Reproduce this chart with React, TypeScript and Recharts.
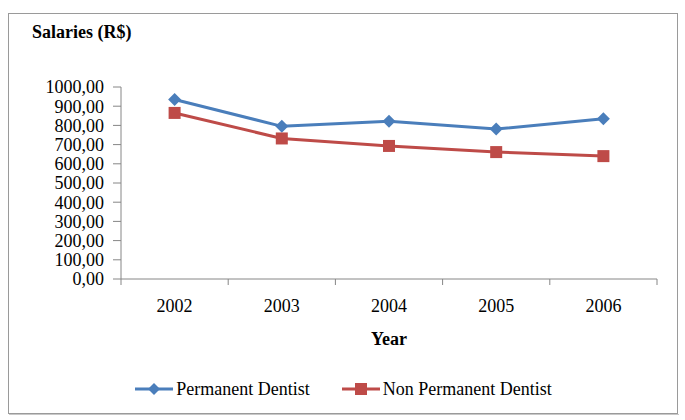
import React from 'react';
import { LineChart, Line, XAxis, YAxis, Legend } from 'recharts';

const years = ['2002', '2003', '2004', '2005', '2006'];
const permanent = [935, 795, 821, 781, 835];
const nonPermanent = [865, 732, 693, 661, 640];
const yTicks = [0, 100, 200, 300, 400, 500, 600, 700, 800, 900, 1000];
const seriesOrder = ['permanent', 'nonPermanent'];

const BLUE = '#4a7ebb';
const RED = '#be4b48';
const AXIS = '#868686';
const FONT = '"Liberation Serif", "Times New Roman", serif';
const X_TICK_SIZE = 6;
const X_TICK_MARGIN = 14;

const data = years.map((year, i) => ({
  year,
  permanent: permanent[i],
  nonPermanent: nonPermanent[i],
}));

const Diamond = (props: any) => {
  const { cx, cy, index } = props;
  if (cx == null || cy == null) return null;
  const r = 6.5;
  return (
    <path
      key={`d-${index}`}
      d={`M${cx},${cy - r}L${cx + r},${cy}L${cx},${cy + r}L${cx - r},${cy}Z`}
      fill={BLUE}
    />
  );
};

const Square = (props: any) => {
  const { cx, cy, index } = props;
  if (cx == null || cy == null) return null;
  const s = 12;
  return <rect key={`s-${index}`} x={cx - s / 2} y={cy - s / 2} width={s} height={s} fill={RED} />;
};

// category label in the middle, tick marks on the band edges (Excel style)
const YearTick = (props: any) => {
  const { x, y, payload, index, visibleTicksCount } = props;
  const half = payload.offset || 0;
  const axisY = y - X_TICK_SIZE - X_TICK_MARGIN;
  const isLast = index === visibleTicksCount - 1;
  return (
    <g>
      <line x1={x - half} y1={axisY} x2={x - half} y2={axisY + X_TICK_SIZE} stroke={AXIS} />
      {isLast && (
        <line x1={x + half} y1={axisY} x2={x + half} y2={axisY + X_TICK_SIZE} stroke={AXIS} />
      )}
      <text x={x} y={y} dy="0.71em" textAnchor="middle" fill="#000" fontSize={18} fontFamily={FONT}>
        {payload.value}
      </text>
    </g>
  );
};

const renderLegend = (props: any) => {
  const items = [...(props.payload || [])].sort(
    (a: any, b: any) => seriesOrder.indexOf(a.dataKey) - seriesOrder.indexOf(b.dataKey),
  );
  return (
    <div
      style={{
        display: 'flex',
        justifyContent: 'center',
        alignItems: 'center',
        gap: 32,
        height: 26,
        fontFamily: FONT,
        fontSize: 18,
        color: '#000',
        paddingLeft: 2,
      }}
    >
      {items.map((entry: any) => (
        <div key={entry.value} style={{ display: 'flex', alignItems: 'center' }}>
          <svg width={38} height={16} style={{ marginRight: 3 }}>
            <line x1={0} y1={8} x2={38} y2={8} stroke={entry.color} strokeWidth={3} />
            {entry.dataKey === 'permanent' ? (
              <path d="M19,2L25,8L19,14L13,8Z" fill={entry.color} />
            ) : (
              <rect x={13} y={2} width={12} height={12} fill={entry.color} />
            )}
          </svg>
          <span>{entry.value}</span>
        </div>
      ))}
    </div>
  );
};

export default function App() {
  return (
    <div style={{ position: 'relative', width: 685, height: 420, background: '#fff' }}>
      <style>{'html, body { margin: 0; padding: 0; overflow: hidden; }'}</style>
      <div
        style={{
          position: 'absolute',
          left: 32,
          top: 22,
          fontFamily: FONT,
          fontWeight: 'bold',
          fontSize: 18,
          lineHeight: '20px',
          color: '#000',
        }}
      >
        Salaries (R$)
      </div>
      <LineChart
        width={685}
        height={420}
        data={data}
        margin={{ top: 87, right: 28, left: 0, bottom: 14 }}
        style={{ position: 'absolute', left: 0, top: 0 }}
      >
        <XAxis
          dataKey="year"
          scale="band"
          height={97}
          stroke={AXIS}
          tickLine={false}
          tickSize={X_TICK_SIZE}
          tickMargin={X_TICK_MARGIN}
          interval={0}
          tick={<YearTick />}
          label={{
            value: 'Year',
            position: 'insideTop',
            offset: 53,
            fill: '#000',
            fontSize: 18,
            fontWeight: 'bold',
            fontFamily: FONT,
          }}
        />
        <YAxis
          width={121}
          domain={[0, 1000]}
          ticks={yTicks}
          interval={0}
          stroke={AXIS}
          tickSize={8}
          tickMargin={9}
          tickFormatter={(v: number) => v.toFixed(2).replace('.', ',')}
          tick={{ fill: '#000', fontSize: 18, fontFamily: FONT }}
        />
        <Legend
          verticalAlign="bottom"
          height={30}
          content={renderLegend}
          wrapperStyle={{ left: 0, width: 685 }}
        />
        <Line
          dataKey="permanent"
          name="Permanent Dentist"
          stroke={BLUE}
          strokeWidth={3}
          dot={Diamond}
          activeDot={false}
          isAnimationActive={false}
        />
        <Line
          dataKey="nonPermanent"
          name="Non Permanent Dentist"
          stroke={RED}
          strokeWidth={3}
          dot={Square}
          activeDot={false}
          isAnimationActive={false}
        />
      </LineChart>
      <svg
        width={685}
        height={420}
        style={{ position: 'absolute', left: 0, top: 0, pointerEvents: 'none', zIndex: 2 }}
      >
        <rect x={8.5} y={13.5} width={669} height={400} fill="none" stroke="#9a9a9a" strokeWidth={1} />
        <line x1={9} y1={414.5} x2={679} y2={414.5} stroke="#c8c8c8" strokeWidth={1} />
      </svg>
    </div>
  );
}
